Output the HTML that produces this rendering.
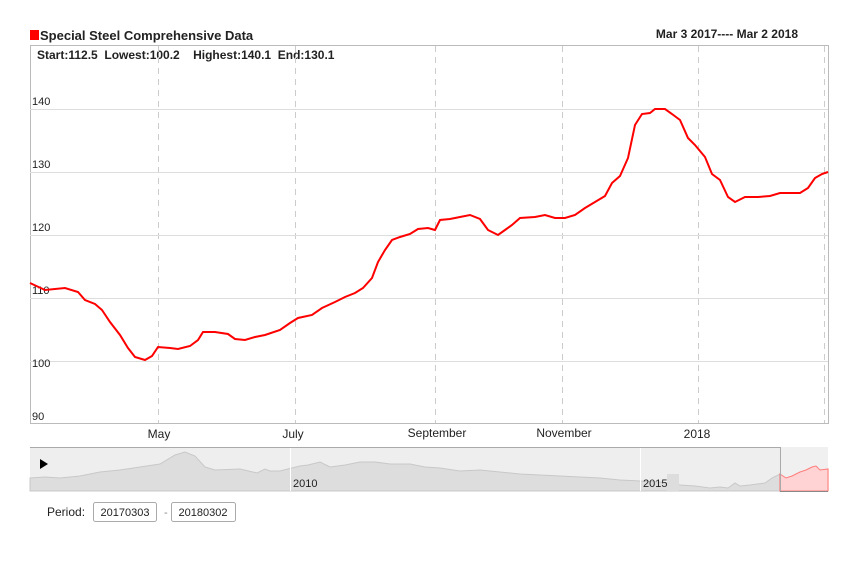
<!DOCTYPE html>
<html><head><meta charset="utf-8"><style>
body{margin:0;background:#fff;font-family:"Liberation Sans",Arial,sans-serif}
</style></head><body>
<svg width="860" height="558" xmlns="http://www.w3.org/2000/svg" font-family="Liberation Sans, Arial, sans-serif">
<rect x="30" y="30" width="9" height="10" fill="#f00"/>
<text x="40" y="40" font-size="13" font-weight="bold" fill="#222">Special Steel Comprehensive Data</text>
<text x="798" y="38" font-size="12" font-weight="bold" text-anchor="end" fill="#222">Mar 3  2017---- Mar 2 2018</text>
<rect x="30.5" y="45.5" width="798" height="378" fill="#fff" stroke="#bbb"/>
<text x="37" y="59" font-size="12" font-weight="bold" fill="#222" xml:space="preserve">Start:112.5  Lowest:100.2    Highest:140.1  End:130.1</text>
<g stroke="#ccc" stroke-dasharray="6,5">
<line x1="158.5" y1="46" x2="158.5" y2="423"/><line x1="295.5" y1="46" x2="295.5" y2="423"/><line x1="435.5" y1="46" x2="435.5" y2="423"/><line x1="562.5" y1="46" x2="562.5" y2="423"/><line x1="698.5" y1="46" x2="698.5" y2="423"/><line x1="824.5" y1="46" x2="824.5" y2="423"/>
</g>
<g stroke="#ddd"><line x1="30" y1="109.5" x2="828" y2="109.5"/><line x1="30" y1="172.5" x2="828" y2="172.5"/><line x1="30" y1="235.5" x2="828" y2="235.5"/><line x1="30" y1="298.5" x2="828" y2="298.5"/><line x1="30" y1="361.5" x2="828" y2="361.5"/></g>
<g font-size="11" fill="#222"><text x="32" y="105">140</text><text x="32" y="168">130</text><text x="32" y="231">120</text><text x="32" y="294">110</text><text x="32" y="367">100</text><text x="32" y="420">90</text></g>
<polyline fill="none" stroke="#f00" stroke-width="2" points="30,283 45,290 65,288 78,292 85,300 95,304 102,310 110,322 120,335 128,348 135,357 145,360 152,356 158,347 170,348 178,349 190,346 198,340 203,332 215,332 228,334 235,339 245,340 255,337 265,335 280,330 290,323 298,318 312,315 322,308 335,302 345,297 355,293 363,288 372,278 378,262 385,250 392,240 400,237 410,234 418,229 428,228 435,230 440,220 450,219 460,217 470,215 480,219 488,230 498,235 505,230 512,225 520,218 535,217 545,215 555,218 565,218 575,215 585,208 595,202 605,196 612,183 620,176 628,158 635,125 642,114 650,113 655,109 665,109 672,114 680,120 688,138 695,145 705,157 712,174 720,180 728,197 735,202 745,197 758,197 770,196 780,193 800,193 808,188 815,178 822,174 828,172"/>
<g font-size="12" fill="#222" text-anchor="middle"><text x="159" y="438">May</text><text x="293" y="438">July</text><text x="437" y="437">September</text><text x="564" y="437">November</text><text x="697" y="438">2018</text></g>
<rect x="30" y="447" width="798" height="44" fill="#eee"/>
<line x1="30" y1="447.5" x2="780" y2="447.5" stroke="#aaa"/>
<polygon fill="#ddd" stroke="#c8c8c8" points="30,478 45,477 60,478 80,476 100,472 120,470 140,467 160,464 175,455 185,452 195,456 205,467 215,470 240,469 257,473 265,469 270,471 280,471 300,466 308,465 320,462 330,467 345,465 360,462 375,462 390,464 410,464 425,467 440,468 460,471 480,470 500,472 520,474 540,475 560,476 580,477 600,478 620,480 640,481 660,482 680,485 695,486 710,488 720,487 728,488 735,483 740,486 750,485 765,483 772,478 780,474 780,491 30,491"/>
<rect x="667" y="474" width="12" height="17" fill="#ddd"/>
<line x1="290.5" y1="448" x2="290.5" y2="491" stroke="#fff"/><line x1="640.5" y1="448" x2="640.5" y2="491" stroke="#fff"/>
<text x="293" y="487" font-size="11" fill="#222">2010</text><text x="643" y="487" font-size="11" fill="#222">2015</text>
<polygon fill="#fcc" stroke="#f66" points="780,474 786,478 792,476 800,472 806,470 812,467 816,466 820,470 828,469 828,491 780,491"/>
<rect x="780" y="447" width="48" height="44" fill="#fff" opacity="0.15"/>
<line x1="780" y1="491.5" x2="828" y2="491.5" stroke="#888"/>
<line x1="780.5" y1="447" x2="780.5" y2="491" stroke="#aaa"/>
<polygon points="40,459 40,469 48,464" fill="#000"/>
<text x="47" y="516" font-size="12" fill="#222">Period:</text>
<rect x="93.5" y="502.5" width="63" height="19" rx="2" fill="#fff" stroke="#aaa"/>
<text x="125" y="516" font-size="11" text-anchor="middle" fill="#222">20170303</text>
<text x="164" y="516" font-size="11" fill="#888">-</text>
<rect x="171.5" y="502.5" width="64" height="19" rx="2" fill="#fff" stroke="#aaa"/>
<text x="203" y="516" font-size="11" text-anchor="middle" fill="#222">20180302</text>
</svg>
</body></html>
